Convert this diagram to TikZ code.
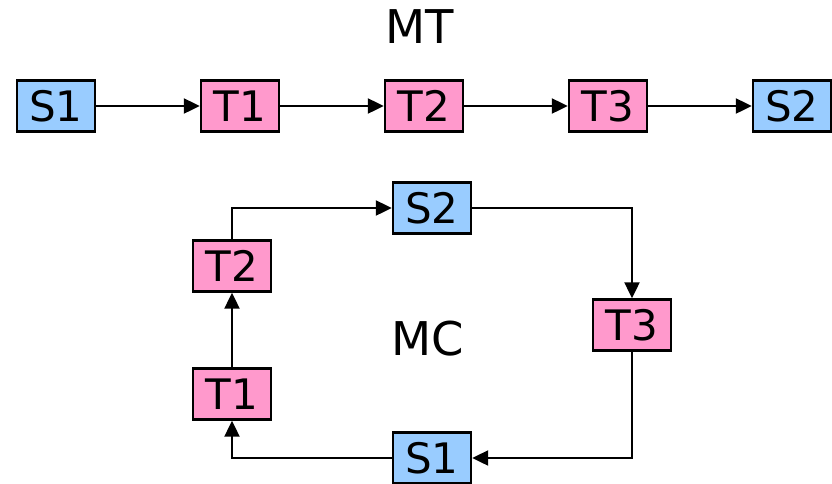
\documentclass[tikz,border=0pt]{standalone}
\usepackage{fontspec}
\setmainfont{DejaVu Sans}
\usetikzlibrary{arrows.meta}
\definecolor{sblue}{HTML}{99CCFF}
\definecolor{tpink}{HTML}{FF99CC}
\tikzset{
  box/.style={draw=black, line width=2.4pt, minimum width=78pt, minimum height=51pt,
              inner sep=0pt, font=\fontsize{42}{42}\selectfont},
  sbox/.style={box, fill=sblue},
  tbox/.style={box, fill=tpink},
  title/.style={font=\fontsize{46.5}{46.5}\selectfont, inner sep=0pt},
  link/.style={line width=2.2pt, -{Triangle[length=16pt,width=15pt]}}
}
\begin{document}
\begin{tikzpicture}[x=1pt,y=-1pt]
  \useasboundingbox (0,0) rectangle (832,483);
  % linear chain
  \node[title] (mt) at (420,27) {MT};
  \node[sbox] (a1) at (56,106) {S1};
  \node[tbox] (a2) at (240,106) {T1};
  \node[tbox] (a3) at (424,106) {T2};
  \node[tbox] (a4) at (608,106) {T3};
  \node[sbox] (a5) at (792,106) {S2};
  \draw[link] (a1) -- (a2);
  \draw[link] (a2) -- (a3);
  \draw[link] (a3) -- (a4);
  \draw[link] (a4) -- (a5);
  % cycle
  \node[title] (mc) at (428,339) {MC};
  \node[tbox] (c2) at (232,266) {T2};
  \node[sbox] (c3) at (432,208) {S2};
  \node[tbox] (c4) at (632,325) {T3};
  \node[sbox] (c5) at (432,458) {S1};
  \node[tbox] (c1) at (232,394) {T1};
  \draw[link] (c2.north) |- (c3.west);
  \draw[link] (c3.east) -| (c4.north);
  \draw[link] (c4.south) |- (c5.east);
  \draw[link] (c5.west) -| (c1.south);
  \draw[link] (c1) -- (c2);
\end{tikzpicture}
\end{document}
